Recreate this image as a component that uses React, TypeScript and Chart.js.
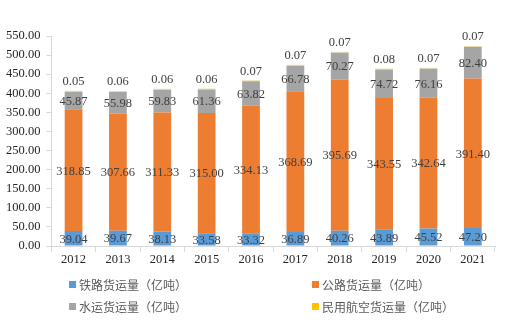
import React, { useEffect, useRef } from "react";
import { Chart, registerables } from "chart.js";

Chart.register(...registerables);

const years = ["2012", "2013", "2014", "2015", "2016", "2017", "2018", "2019", "2020", "2021"];
const railFreight = [39.04, 39.67, 38.13, 33.58, 33.32, 36.89, 40.26, 43.89, 45.52, 47.2];
const roadFreight = [318.85, 307.66, 311.33, 315.0, 334.13, 368.69, 395.69, 343.55, 342.64, 391.4];
const waterFreight = [45.87, 55.98, 59.83, 61.36, 63.82, 66.78, 70.27, 74.72, 76.16, 82.4];
const airFreight = [0.05, 0.06, 0.06, 0.06, 0.07, 0.07, 0.07, 0.08, 0.07, 0.07];
const seriesNames = ["铁路货运量（亿吨）", "公路货运量（亿吨）", "水运货运量（亿吨）", "民用航空货运量（亿吨）"];
const seriesColors = ["#5B9BD5", "#ED7D31", "#A5A5A5", "#FFC000"];
const yMin = 0;
const yMax = 550;
const yStep = 50;

const NUM_FONT = '"Liberation Serif", "Times New Roman", serif';

const valueLabelPlugin = {
  id: "valueLabels",
  afterDatasetsDraw(chart: any) {
    const ctx = chart.ctx;
    ctx.save();
    ctx.font = `12.5px ${NUM_FONT}`;
    ctx.fillStyle = "#404040";
    ctx.textAlign = "center";
    ctx.textBaseline = "middle";
    chart.data.datasets.forEach((ds: any, i: number) => {
      const meta = chart.getDatasetMeta(i);
      meta.data.forEach((el: any, j: number) => {
        const v = ds.data[j] as number;
        const txt = v.toFixed(2);
        if (i === 3) {
          ctx.fillText(txt, el.x, el.y - 9);
        } else {
          ctx.fillText(txt, el.x, (el.y + el.base) / 2 + 1);
        }
      });
    });
    ctx.restore();
  },
};

export default function App() {
  const ref = useRef<HTMLCanvasElement | null>(null);

  useEffect(() => {
    if (!ref.current) return;
    const datasets = [railFreight, roadFreight, waterFreight, airFreight].map((d, i) => ({
      label: seriesNames[i],
      data: d,
      backgroundColor: i === 3 ? "#EEDCA8" : seriesColors[i],
      borderWidth: 0,
      barPercentage: 0.4,
      categoryPercentage: 1,
      minBarLength: i === 3 ? 1 : 0,
      stack: "s",
    }));
    const chart = new Chart(ref.current, {
      type: "bar",
      data: { labels: years, datasets },
      options: {
        animation: false,
        responsive: false,
        devicePixelRatio: 1,
        layout: { padding: { top: 36, bottom: 58, left: 0, right: 12 } },
        plugins: {
          legend: { display: false },
          tooltip: { enabled: false },
        },
        scales: {
          x: {
            stacked: true,
            grid: {
              display: true,
              drawOnChartArea: false,
              drawTicks: true,
              tickLength: 6,
              color: "#D9D9D9",
              offset: true,
            },
            border: { display: true, color: "#D9D9D9" },
            ticks: {
              padding: 0,
              color: "#262626",
              font: { family: NUM_FONT, size: 12.5 },
            },
          },
          y: {
            stacked: true,
            min: yMin,
            max: yMax,
            grid: {
              display: true,
              drawOnChartArea: false,
              drawTicks: true,
              tickLength: 5,
              color: "#D9D9D9",
            },
            border: { display: true, color: "#D9D9D9" },
            ticks: {
              stepSize: yStep,
              padding: 6,
              color: "#262626",
              font: { family: NUM_FONT, size: 12.5 },
              callback: (v: any) => Number(v).toFixed(2),
            },
          },
        },
      },
      plugins: [valueLabelPlugin],
    });
    return () => chart.destroy();
  }, []);

  const legendPos = [
    { left: 69, top: 284 },
    { left: 312, top: 284 },
    { left: 69, top: 306 },
    { left: 312, top: 306 },
  ];

  return (
    <div style={{ position: "fixed", left: 0, top: 0, width: 507, height: 325, background: "#fff" }}>
      <canvas ref={ref} width={507} height={325} style={{ display: "block" }} />
      {seriesNames.map((name, i) => (
        <div
          key={name}
          style={{
            position: "absolute",
            left: legendPos[i].left,
            top: legendPos[i].top - 8,
            height: 16,
            display: "flex",
            alignItems: "center",
            fontFamily: '"Noto Sans CJK SC", sans-serif',
            fontSize: 12,
            color: "#595959",
            whiteSpace: "nowrap",
          }}
        >
          <span style={{ display: "inline-block", width: 7, height: 7, background: seriesColors[i], marginRight: 3 }} />
          <span>{name}</span>
        </div>
      ))}
    </div>
  );
}
